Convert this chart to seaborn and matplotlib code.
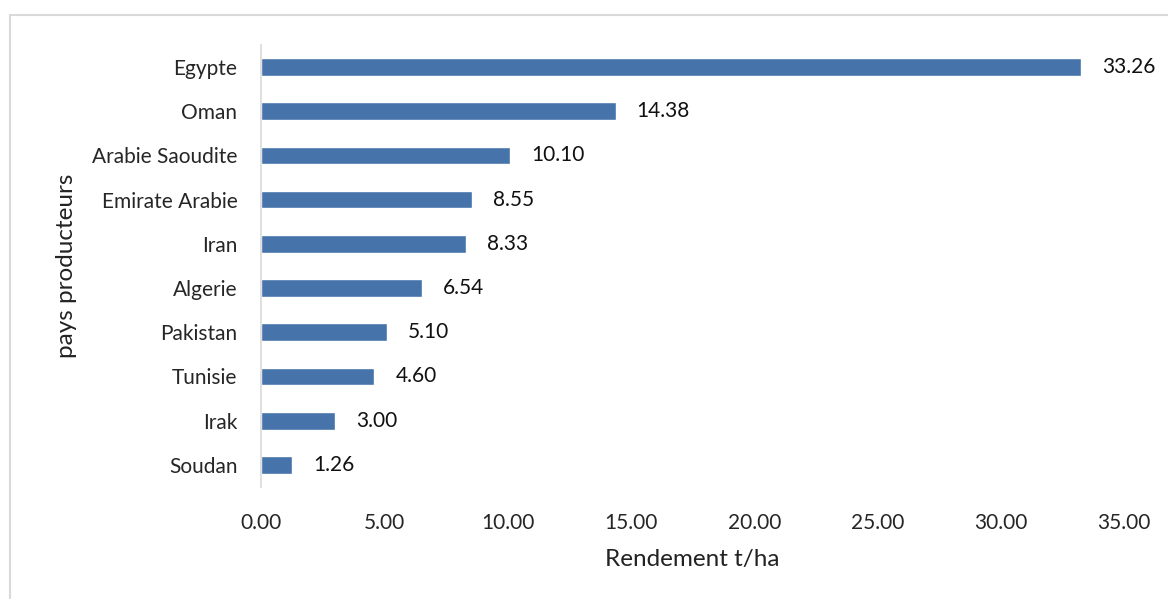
import matplotlib
matplotlib.use("Agg")
import matplotlib.pyplot as plt
import seaborn as sns
import pandas as pd
from matplotlib.patches import Rectangle

# Données
pays = ["Egypte", "Oman", "Arabie Saoudite", "Emirate Arabie", "Iran",
        "Algerie", "Pakistan", "Tunisie", "Irak", "Soudan"]
rendement = [33.26, 14.38, 10.10, 8.55, 8.33, 6.54, 5.10, 4.60, 3.00, 1.26]
xticks = [0, 5, 10, 15, 20, 25, 30, 35]

df = pd.DataFrame({"pays": pays, "rendement": rendement})

sns.set_style("white")
plt.rcParams["font.family"] = ["Lato", "DejaVu Sans"]

fig = plt.figure(figsize=(11.68, 5.99), dpi=100)
ax = fig.add_axes([0.2235, 0.187, 0.739, 0.738])

sns.barplot(x="rendement", y="pays", data=df, orient="h", color="#4673AA",
            saturation=1, width=0.4, ax=ax)

for i, v in enumerate(rendement):
    ax.annotate(f"{v:.2f}", (v, i), xytext=(15, 0), textcoords="offset points",
                ha="left", va="center", fontsize=15, color="#111111")

ax.set_xlim(0, 35)
ax.set_ylim(9.5, -0.5)
ax.set_xticks(xticks)
ax.set_xticklabels([f"{t:.2f}" for t in xticks], fontsize=15)
ax.tick_params(axis="y", labelsize=15, length=0, pad=17)
ax.tick_params(axis="x", length=0, pad=19)
ax.set_xlabel("Rendement t/ha", fontsize=17.5, labelpad=11, color="#222222")
ax.set_ylabel("pays producteurs", fontsize=17.5, labelpad=11, color="#222222")

for s in ["top", "right", "bottom"]:
    ax.spines[s].set_visible(False)
ax.spines["left"].set_color("#d9d9d9")
ax.spines["left"].set_linewidth(1.2)

# cadre du graphique
fig.patches.append(Rectangle((10 / 1168, -0.05), 1.1, 1 - 15 / 599 + 0.05,
                             transform=fig.transFigure, fill=False,
                             edgecolor="#d9d9d9", linewidth=1.5))

fig.savefig("out.png", dpi=100)
